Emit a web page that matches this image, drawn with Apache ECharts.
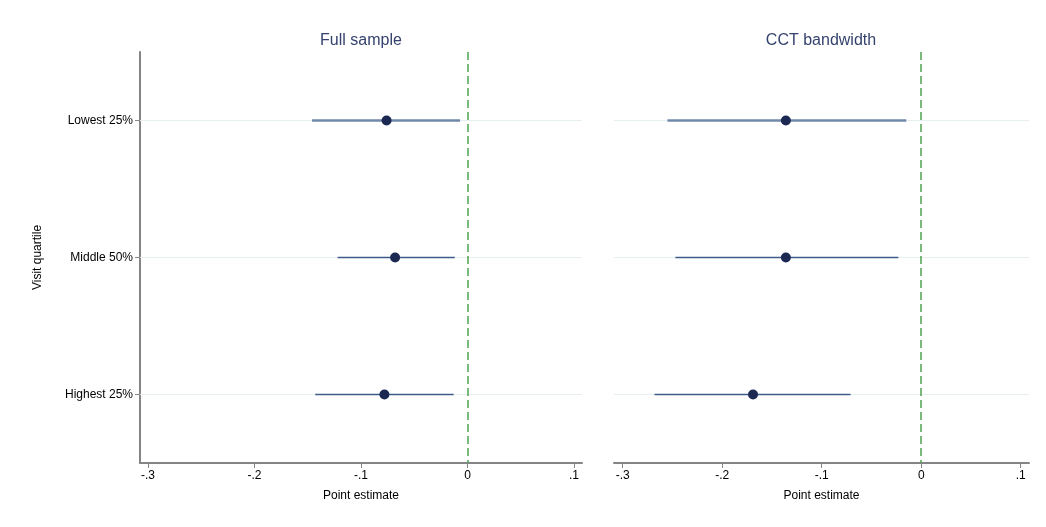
<!DOCTYPE html>
<html>
<head>
<meta charset="utf-8">
<script src="https://cdn.jsdelivr.net/npm/echarts@6/dist/echarts.min.js"></script>
<style>
  html, body { margin: 0; padding: 0; background: #fff; }
  #chart { width: 1046px; height: 527px; }
</style>
</head>
<body>
<div id="chart"></div>
<script>
// 数据
const categories = ['Lowest 25%', 'Middle 50%', 'Highest 25%'];
const panelTitles = ['Full sample', 'CCT bandwidth'];
const fullEstimate = [-0.076, -0.068, -0.078];
const fullLower = [-0.146, -0.122, -0.143];
const fullUpper = [-0.007, -0.012, -0.013];
const cctEstimate = [-0.136, -0.136, -0.169];
const cctLower = [-0.255, -0.247, -0.268];
const cctUpper = [-0.015, -0.023, -0.071];
const xTicks = [-0.3, -0.2, -0.1, 0, 0.1];
const xTickLabels = ['-.3', '-.2', '-.1', '0', '.1'];

const font = 'Liberation Sans, Arial, sans-serif';
const navy = '#34426e';
const dotColor = '#1a2852';
const axisGray = '#858585';

const chart = echarts.init(document.getElementById('chart'));

function xAxisFor (gridIndex, min, max) {
  return {
    type: 'value',
    gridIndex: gridIndex,
    min: min,
    max: max,
    name: 'Point estimate',
    nameLocation: 'middle',
    nameGap: 27,
    nameTextStyle: { fontFamily: font, fontSize: 12, color: '#000' },
    axisLine: { show: true, onZero: false, lineStyle: { color: axisGray, width: 2 } },
    axisTick: { show: true, length: 5, customValues: xTicks, lineStyle: { color: axisGray, width: 1 } },
    axisLabel: {
      customValues: xTicks,
      margin: 7,
      fontFamily: font,
      fontSize: 12,
      color: '#000',
      formatter: v => xTickLabels[xTicks.findIndex(t => Math.abs(t - v) < 1e-9)]
    },
    splitLine: { show: false }
  }
}

function yAxisFor (gridIndex, withAxis) {
  return {
    type: 'category',
    gridIndex: gridIndex,
    data: categories,
    inverse: true,
    boundaryGap: true,
    name: withAxis ? 'Visit quartile' : '',
    nameLocation: 'middle',
    nameGap: 96,
    nameTextStyle: { fontFamily: font, fontSize: 12, color: '#000' },
    axisLine: { show: withAxis, onZero: false, lineStyle: { color: axisGray, width: 2 } },
    axisTick: { show: withAxis, length: 5, alignWithLabel: true, lineStyle: { color: axisGray, width: 1 } },
    axisLabel: { show: withAxis, margin: 7, fontFamily: font, fontSize: 12, color: '#000' },
    splitLine: { show: false }
  }
}

// 置信区间线：每一行一条线
function ciSeries (idx, lower, upper) {
  return categories.map((c, i) => ({
    type: 'line',
    xAxisIndex: idx,
    yAxisIndex: idx,
    z: 3,
    symbol: 'none',
    silent: true,
    lineStyle: { color: i === 0 ? '#7089ab' : '#3f5d8a', width: i === 0 ? 2.5 : 1.6 },
    data: [[lower[i], c], [upper[i], c]]
  }))
}

// 行参考线（放在最底层）
function rowLineSeries (idx) {
  return {
    type: 'line',
    xAxisIndex: idx,
    yAxisIndex: idx,
    z: 1,
    data: [],
    markLine: {
      z: 1,
      silent: true,
      symbol: 'none',
      label: { show: false },
      lineStyle: { color: '#e6eeef', width: 1, type: 'solid' },
      data: categories.map(c => ({ yAxis: c }))
    }
  }
}

function pointSeries (idx, est) {
  return {
    type: 'scatter',
    xAxisIndex: idx,
    yAxisIndex: idx,
    z: 6,
    symbolSize: 10,
    itemStyle: { color: dotColor, opacity: 1 },
    data: categories.map((c, i) => [est[i], c]),
    markLine: {
      z: 4,
      silent: true,
      symbol: 'none',
      label: { show: false },
      lineStyle: { color: '#4ea24e', width: 1.5, type: [8, 4] },
      data: [{ xAxis: 0 }]
    }
  }
}

const option = {
  animation: false,
  backgroundColor: '#fff',
  title: [
    { text: panelTitles[0], left: 361, top: 33, padding: 0, textAlign: 'center',
      textStyle: { fontFamily: font, fontSize: 16, fontWeight: 'normal', color: navy } },
    { text: panelTitles[1], left: 821, top: 33, padding: 0, textAlign: 'center',
      textStyle: { fontFamily: font, fontSize: 16, fontWeight: 'normal', color: navy } }
  ],
  grid: [
    { left: 140, right: 464, top: 52, bottom: 64 },
    { left: 614, right: 17, top: 52, bottom: 64 }
  ],
  xAxis: [
    xAxisFor(0, -0.3075, 0.1075),
    xAxisFor(1, -0.3087, 0.1083)
  ],
  yAxis: [
    yAxisFor(0, true),
    yAxisFor(1, false)
  ],
  series: [
    rowLineSeries(0),
    rowLineSeries(1),
    ...ciSeries(0, fullLower, fullUpper),
    ...ciSeries(1, cctLower, cctUpper),
    pointSeries(0, fullEstimate),
    pointSeries(1, cctEstimate)
  ]
}

chart.setOption(option)
</script>
</body>
</html>
